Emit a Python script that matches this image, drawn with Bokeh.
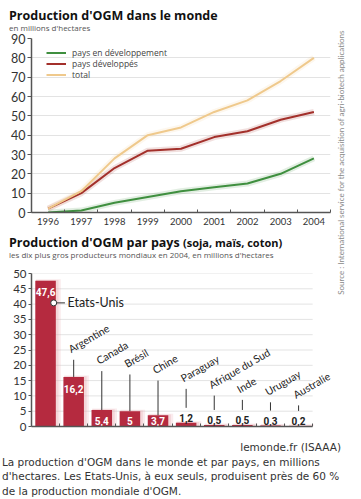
import math
from bokeh.plotting import figure
from bokeh.models import Range1d, FixedTicker, Legend, LegendItem, Div, Label, LabelSet, ColumnDataSource
from bokeh.layouts import column, row
from bokeh.embed import file_html
from bokeh.resources import INLINE
from bokeh.core.properties import value

# ---------------- data ----------------
years = [1996, 1997, 1998, 1999, 2000, 2001, 2002, 2003, 2004]
developing = [0, 1, 5, 8, 11, 13, 15, 20, 28]
developed = [2, 10, 23, 32, 33, 39, 42, 48, 52]
total = [2, 11, 28, 40, 44, 52, 58, 68, 80]
series_names = ["pays en développement", "pays développés", "total"]
top_yticks = [0, 10, 20, 30, 40, 50, 60, 70, 80, 90]

countries = ["Etats-Unis", "Argentine", "Canada", "Brésil", "Chine",
             "Paraguay", "Afrique du Sud", "Inde", "Uruguay", "Australie"]
areas = [47.6, 16.2, 5.4, 5.0, 3.7, 1.2, 0.5, 0.5, 0.3, 0.2]
bottom_yticks = [0, 5, 10, 15, 20, 25, 30, 35, 40, 45, 50]

title1 = "Production d'OGM dans le monde"
subtitle1 = "en millions d'hectares"
title2a = "Production d'OGM par pays"
title2b = "(soja, maïs, coton)"
subtitle2 = "les dix plus gros producteurs mondiaux en 2004, en millions d'hectares"
source_text = "Source : International service for the acquisition of agri-biotech applications"
credit = "lemonde.fr (ISAAA)"
caption_lines = ["La production d'OGM dans le monde et par pays, en millions",
                 "d'hectares. Les Etats-Unis, à eux seuls, produisent près de 60 %",
                 "de la production mondiale d'OGM."]

# layout helpers (top of the leader lines of the country names, in chart units)
label_heights = [None, 21.8, 18.1, 17.0, 15.0, 12.3, 10.1, 8.7, 7.9, 6.9]

# ---------------- styles ----------------
GREEN = "#3f8f3f"
RED = "#a3302b"
TAN = "#efc98c"
BAR = "#b52a3f"
AXIS = "#555555"
GRID = "#e3e3e3"

def fmt(v):
    s = "%.1f" % v
    if s.endswith(".0"):
        s = s[:-2]
    return s.replace(".", ",")

COLW = 336

# ---------------- title divs ----------------
tdiv1 = Div(width=COLW, height=32, margin=0, text=(
    "<div style='padding-left:9px;padding-top:8px;white-space:nowrap'>"
    f"<div style=\"font-family:'Open Sans';font-weight:bold;font-size:12.5px;line-height:15px;color:#111\">{title1}</div>"
    f"<div style=\"font-family:'Open Sans';font-size:8px;line-height:9px;color:#555\">{subtitle1}</div>"
    "</div>"))

tdiv2 = Div(width=COLW, height=28, margin=0, text=(
    "<div style='padding-left:9px;white-space:nowrap'>"
    f"<div style=\"font-family:'Open Sans';font-weight:bold;font-size:12.5px;line-height:14px;color:#111\">{title2a} "
    f"<span style='font-size:11px'>{title2b}</span></div>"
    f"<div style=\"font-family:'Open Sans';font-size:8px;line-height:10px;color:#555\">{subtitle2}</div>"
    "</div>"))

# ---------------- top chart ----------------
p1 = figure(width=COLW, height=204, x_range=Range1d(1995.5, 2004.5), y_range=Range1d(0, 90),
            output_backend="svg", toolbar_location=None,
            min_border_left=31, min_border_right=6, min_border_top=6, min_border_bottom=24)
p1.outline_line_color = None
p1.xgrid.visible = False
p1.ygrid.ticker = FixedTicker(ticks=top_yticks)
p1.ygrid.grid_line_color = GRID
p1.yaxis.ticker = FixedTicker(ticks=top_yticks)
p1.yaxis.minor_tick_line_color = None
p1.yaxis.major_tick_in = 0
p1.yaxis.major_tick_out = 4
p1.yaxis.major_label_standoff = 2
p1.yaxis.major_label_text_font = "Lato"
p1.yaxis.major_label_text_font_size = "12.5px"
p1.yaxis.major_label_text_color = "#333333"
p1.xaxis.ticker = FixedTicker(ticks=years, minor_ticks=[y - 0.5 for y in years] + [years[-1] + 0.5])
p1.xaxis.major_tick_in = 0
p1.xaxis.major_tick_out = 0
p1.xaxis.minor_tick_in = 3
p1.xaxis.minor_tick_out = 0
p1.xaxis.major_label_standoff = 5
p1.xaxis.major_label_text_font = "Lato"
p1.xaxis.major_label_text_font_size = "9.5px"
p1.xaxis.major_label_text_color = "#333333"
for ax in (p1.xaxis, p1.yaxis):
    ax.axis_line_color = AXIS
    ax.axis_line_width = 1.5
    ax.major_tick_line_color = AXIS
    ax.minor_tick_line_color = AXIS

renderers = []
for s, c in zip([developing, developed, total], [GREEN, RED, TAN]):
    p1.line(years, s, line_color=c, line_width=6, line_alpha=0.15)
for s, c in zip([developing, developed, total], [GREEN, RED, TAN]):
    r = p1.line(years, s, line_color=c, line_width=2)
    renderers.append(r)

legend = Legend(items=[LegendItem(label=n, renderers=[r]) for n, r in zip(series_names, renderers)],
                location=(15, 132), border_line_color=None, background_fill_alpha=0,
                label_text_font="Open Sans", label_text_font_size="8.5px", label_text_color="#444444",
                glyph_width=20, glyph_height=11, label_height=11, spacing=0, padding=2, margin=0,
                label_standoff=6)
p1.add_layout(legend)

# ---------------- bottom chart ----------------
idx = list(range(len(countries)))
x_lo, x_hi = -0.5, len(countries) - 0.5
# frame extends to the right of the last bar so that the last rotated name is not clipped
p2 = figure(width=COLW, height=170, x_range=Range1d(x_lo, 10.135), y_range=Range1d(0, 50),
            output_backend="svg", toolbar_location=None,
            min_border_left=26, min_border_right=0, min_border_top=9, min_border_bottom=8)
p2.outline_line_color = None
p2.xgrid.visible = False
p2.ygrid.visible = False
p2.yaxis.ticker = FixedTicker(ticks=bottom_yticks)
p2.yaxis.minor_tick_line_color = None
p2.yaxis.major_tick_in = 0
p2.yaxis.major_tick_out = 3
p2.yaxis.major_label_standoff = 2
p2.yaxis.major_label_text_font = "Lato"
p2.yaxis.major_label_text_font_size = "11.5px"
p2.yaxis.major_label_text_color = "#333333"
p2.xaxis.ticker = FixedTicker(ticks=[], minor_ticks=[i + 0.5 for i in idx])
p2.xaxis.bounds = (x_lo, x_hi)
p2.xaxis.major_label_text_font_size = "0px"
p2.xaxis.major_tick_in = 0
p2.xaxis.major_tick_out = 0
p2.xaxis.minor_tick_in = 3
p2.xaxis.minor_tick_out = 0
for ax in (p2.xaxis, p2.yaxis):
    ax.axis_line_color = AXIS
    ax.axis_line_width = 1.5
    ax.major_tick_line_color = AXIS
    ax.minor_tick_line_color = AXIS

# horizontal grid lines limited to the bar area
gy = bottom_yticks[1:]
p2.segment(x0=[x_lo] * len(gy), x1=[x_hi] * len(gy), y0=gy, y1=gy,
           line_color=GRID, line_width=1)

# soft glow behind bars
p2.vbar(x=[i + 0.1 for i in idx], top=[a + 0.5 for a in areas], width=0.88,
        fill_color="#eab0b8", fill_alpha=0.25, line_color=None)
p2.vbar(x=[i + 0.06 for i in idx], top=[a + 0.25 for a in areas], width=0.8,
        fill_color="#e39aa5", fill_alpha=0.25, line_color=None)
p2.vbar(x=idx, top=areas, width=0.73, fill_color=BAR, line_color=None)

# value labels
big = [i for i in idx if areas[i] >= 10]
mid = [i for i in idx if 3 <= areas[i] < 10]
small = [i for i in idx if areas[i] < 3]
p2.text(x=big, y=[areas[i] - 3.8 for i in big], text=[fmt(areas[i]) for i in big],
        text_align="center", text_baseline="alphabetic", text_color="white",
        text_font=value("Roboto"), text_font_style="bold", text_font_size="10px")
p2.text(x=mid, y=[1.9 for i in mid], text=[fmt(areas[i]) for i in mid],
        text_align="center", text_baseline="alphabetic", text_color="white",
        text_font=value("Roboto"), text_font_style="bold", text_font_size="10px")
p2.text(x=small, y=[areas[i] + 1.6 for i in small], text=[fmt(areas[i]) for i in small],
        text_align="center", text_baseline="alphabetic", text_color="#222222",
        text_font=value("Roboto"), text_font_style="bold", text_font_size="10px")

# leader lines and rotated country names
lab = idx[1:]
p2.segment(x0=lab, x1=lab,
           y0=[areas[i] if areas[i] >= 3 else areas[i] + 4.9 for i in lab],
           y1=[label_heights[i] for i in lab], line_color="#333333", line_width=1)
name_src = ColumnDataSource(dict(x=[i - 0.09 for i in lab],
                                 y=[label_heights[i] + 2.1 for i in lab],
                                 text=[countries[i] for i in lab]))
p2.add_layout(LabelSet(x="x", y="y", text="text", source=name_src, angle=math.radians(30),
                       text_align="left", text_baseline="alphabetic",
                       text_font=value("Lato"), text_font_size="10.5px", text_color="#222222"))

# Etats-Unis annotation
p2.segment(x0=[0.29], x1=[0.69], y0=[40.4], y1=[40.4], line_color="#333333", line_width=1)
p2.scatter(x=[0.29], y=[40.4], size=6, fill_color="white", line_color="#333333", line_width=1)
p2.text(x=[0.78], y=[40.4], text=[countries[0]], text_align="left", text_baseline="middle",
        text_font=value("Lato"), text_font_size="12.5px", text_color="#222222")

# ---------------- source column ----------------
p3 = figure(width=16, height=434, x_range=Range1d(0, 1), y_range=Range1d(0, 434),
            output_backend="svg", toolbar_location=None,
            x_axis_location=None, y_axis_location=None,
            min_border_left=0, min_border_right=0, min_border_top=0, min_border_bottom=0)
p3.grid.visible = False
p3.outline_line_color = None
p3.add_layout(Label(x=0.27, y=272, text=source_text, angle=math.pi / 2,
                    text_align="center", text_baseline="middle",
                    text_font="Lato", text_font_size="8px", text_color="#8a8a8a"))

# ---------------- caption ----------------
cap_html = (
    "<div style=\"font-family:'DejaVu Sans';font-size:10.5px;line-height:14.6px;color:#333;"
    "padding-top:6px;padding-left:2px;width:341px;white-space:nowrap\">"
    f"<div style='text-align:right'>{credit}</div>"
    "<div>" + "<br>".join(caption_lines) + "</div></div>")
caption = Div(width=352, height=65, margin=0, text=cap_html, styles={"overflow": "visible"})

layout = column(row(column(tdiv1, p1, tdiv2, p2), p3), caption)

open("out.html", "w").write(file_html(layout, INLINE))
